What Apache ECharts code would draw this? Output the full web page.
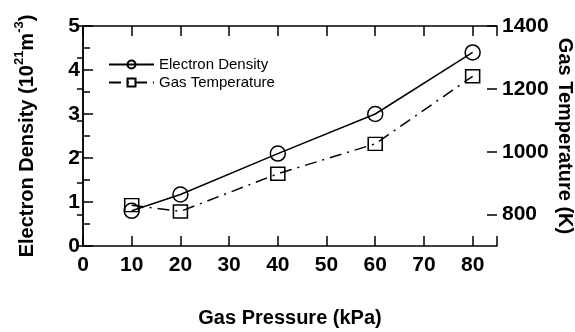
<!DOCTYPE html>
<html>
<head>
<meta charset="utf-8">
<script src="https://cdn.jsdelivr.net/npm/echarts@6/dist/echarts.min.js"></script>
<style>
  html, body { margin: 0; padding: 0; background: #fff; }
  #chart { width: 575px; height: 332px; }
</style>
</head>
<body>
<div id="chart"></div>
<script>
// valores
const pressure = [10, 20, 40, 60, 80];
const electronDensity = [0.8, 1.17, 2.1, 3.0, 4.4];
const gasTemperature = [830, 810, 930, 1025, 1240];
const tempLabels = [800, 1000, 1200, 1400];

(function () {
  const chart = echarts.init(document.getElementById("chart"));
  const font = "Liberation Sans, Arial, sans-serif";
  const black = "#000";

  const tickFont = { color: black, fontFamily: font, fontSize: 21, fontWeight: "bold" };
  const nameFont = { color: black, fontFamily: font, fontSize: 20, fontWeight: "bold" };

  const option = {
    animation: false,
    backgroundColor: "#fff",
    grid: { left: 83, right: 78, top: 26, bottom: 86, containLabel: false, outerBoundsMode: "none" },
    legend: {
      orient: "vertical",
      left: 108,
      top: 57,
      padding: 0,
      itemWidth: 45,
      itemHeight: 10,
      itemGap: 3,
      textStyle: { color: "#000", fontFamily: font, fontSize: 15 },
      data: ["Electron Density", "Gas Temperature"]
    },
    xAxis: [
      {
        type: "value", min: 0, max: 85, interval: 10,
        name: "Gas Pressure (kPa)", nameLocation: "middle", nameGap: 62, nameMoveOverlap: false,
        nameTextStyle: nameFont,
        axisLine: { lineStyle: { color: black, width: 1.5 } },
        axisTick: { inside: true, length: 10, lineStyle: { color: black, width: 1.5 } },
        axisLabel: Object.assign({ margin: 9, formatter: v => (v % 10 === 0 ? String(v) : "") }, tickFont),
        splitLine: { show: false }
      },
      {
        type: "value", min: 0, max: 85, interval: 10, position: "top",
        axisLine: { lineStyle: { color: black, width: 1.5 } },
        axisTick: { inside: true, length: 10, lineStyle: { color: black, width: 1.5 } },
        axisLabel: { show: false },
        splitLine: { show: false }
      }
    ],
    yAxis: [
      {
        type: "value", min: 0, max: 5, interval: 1,
        name: "{a|Electron Density (10}{s|21}{a|m}{s|-3}{a|)}",
        nameLocation: "middle", nameGap: 46, nameRotate: 90, nameMoveOverlap: false,
        nameTextStyle: {
          rich: {
            a: Object.assign({ lineHeight: 24, verticalAlign: "bottom" }, nameFont),
            s: { color: black, fontFamily: font, fontSize: 13, fontWeight: "bold", verticalAlign: "top", lineHeight: 24 }
          }
        },
        axisLine: { lineStyle: { color: black, width: 1.5 } },
        axisTick: { inside: true, length: 10, lineStyle: { color: black, width: 1.5 } },
        minorTick: { show: true, splitNumber: 2, length: 7, lineStyle: { color: black, width: 1.5 } },
        axisLabel: Object.assign({ margin: 3 }, tickFont),
        splitLine: { show: false }
      },
      {
        type: "value", min: 700, max: 1400, interval: 100, position: "right",
        axisLine: { lineStyle: { color: black, width: 1.5 } },
        axisTick: { inside: true, length: 6, lineStyle: { color: black, width: 1.5 } },
        axisLabel: { show: false },
        splitLine: { show: false }
      },
      {
        type: "value", min: 700, max: 1400, position: "right", offset: 0,
        name: "Gas Temperature (K)", nameLocation: "middle", nameGap: 58, nameRotate: -90, nameMoveOverlap: false,
        nameTextStyle: nameFont,
        axisLine: { show: false },
        axisTick: { inside: true, length: 10, customValues: tempLabels, lineStyle: { color: black, width: 1.5 } },
        axisLabel: Object.assign({ margin: 5, customValues: tempLabels, formatter: v => String(v) }, tickFont),
        splitLine: { show: false }
      }
    ],
    series: [
      {
        name: "Electron Density",
        type: "line",
        xAxisIndex: 0, yAxisIndex: 0,
        data: pressure.map((p, i) => [p, electronDensity[i]]),
        symbol: "circle", symbolSize: 15,
        itemStyle: { color: "rgba(0,0,0,0)", borderColor: black, borderWidth: 1.5 },
        lineStyle: { color: black, width: 1.5, type: "solid" }
      },
      {
        name: "Gas Temperature",
        type: "line",
        xAxisIndex: 0, yAxisIndex: 1,
        data: pressure.map((p, i) => [p, gasTemperature[i]]),
        symbol: "rect", symbolSize: [14, 13],
        itemStyle: { color: "rgba(0,0,0,0)", borderColor: black, borderWidth: 1.5 },
        lineStyle: { color: black, width: 1.5, type: [12, 6, 2, 6] }
      }
    ]
  };

  chart.setOption(option);
  window.addEventListener("resize", () => chart.resize());
})();
</script>
</body>
</html>
